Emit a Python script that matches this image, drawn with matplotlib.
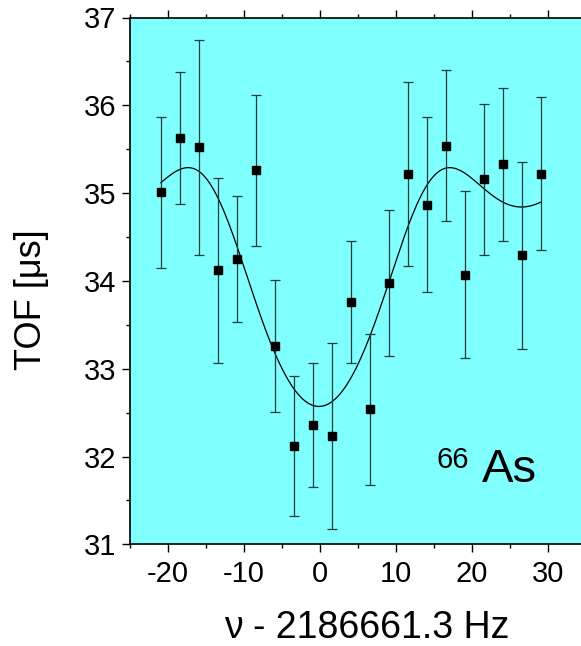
import numpy as np
import matplotlib
matplotlib.use("Agg")
import matplotlib.pyplot as plt
from matplotlib.ticker import MultipleLocator

# Measured time-of-flight resonance of 66As
freq = [-20.9, -18.4, -15.9, -13.4, -10.9, -8.4, -5.9, -3.4, -0.9, 1.6, 4.1,
        6.6, 9.1, 11.6, 14.1, 16.6, 19.1, 21.6, 24.1, 26.6, 29.1]
tof = [35.01, 35.63, 35.52, 34.12, 34.25, 35.26, 33.26, 32.12, 32.36, 32.23, 33.76,
       32.54, 33.98, 35.22, 34.87, 35.54, 34.07, 35.16, 35.33, 34.29, 35.22]
tof_err = [0.86, 0.75, 1.22, 1.05, 0.72, 0.86, 0.75, 0.80, 0.71, 1.06, 0.70,
           0.86, 0.83, 1.05, 1.00, 0.86, 0.95, 0.86, 0.87, 1.06, 0.87]

# Fit parameters of the theoretical line shape
nu_c = -0.1        # Hz, centre offset
t_rf = 0.0503      # s, excitation time
tof_base = 35.29   # us, off-resonance TOF
tof_depth = 2.72   # us, resonance depth
energy_k = 0.7     # non-linearity of TOF vs radial energy

x_ticks = [-20, -10, 0, 10, 20, 30]
y_ticks = [31, 32, 33, 34, 35, 36, 37]


def conversion(dnu):
    """Quadrupolar conversion profile for full conversion at resonance."""
    a = (np.pi / 2) ** 2
    b = (np.pi * dnu * t_rf) ** 2
    wb = np.sqrt(a + b)
    return a / (a + b) * np.sin(wb) ** 2


def tof_model(nu):
    f = conversion(nu - nu_c)
    g = (1 - 1 / np.sqrt(1 + energy_k * f)) / (1 - 1 / np.sqrt(1 + energy_k))
    return tof_base - tof_depth * g


plt.rcParams["font.family"] = ["Liberation Sans", "DejaVu Sans"]
plt.rcParams["axes.unicode_minus"] = False

W, H = 581, 646
fig = plt.figure(figsize=(W / 100, H / 100), dpi=100)
fig.patch.set_facecolor("white")

left, right, top, bottom = 129.7, 585.7, 17.5, 544.3
ax = fig.add_axes([left / W, 1 - bottom / H, (right - left) / W, (bottom - top) / H])
ax.set_facecolor("#80FFFF")

nu_fit = np.linspace(freq[0], freq[-1], 400)
ax.plot(nu_fit, tof_model(nu_fit), color="black", lw=0.9, zorder=2)

ax.errorbar(freq, tof, yerr=tof_err, fmt="s", color="black", ms=5.4,
            ecolor="#1c3c3c", elinewidth=0.9, capsize=3.6, capthick=0.9, zorder=3)

ax.set_xlim(-25, 35)
ax.set_ylim(31, 37)
ax.set_xticks(x_ticks)
ax.set_yticks(y_ticks)
ax.xaxis.set_minor_locator(MultipleLocator(5))
ax.yaxis.set_minor_locator(MultipleLocator(0.5))
ax.tick_params(axis="both", which="major", direction="out", length=5.5, width=1.0,
               labelsize=21, pad=4)
ax.tick_params(axis="both", which="minor", direction="out", length=2.6, width=1.0)
ax.tick_params(axis="x", which="both", top=True)
ax.tick_params(axis="x", which="major", pad=6)
for s in ax.spines.values():
    s.set_linewidth(1.2)

fig.text(31.7 / W, 1 - 300 / H, "TOF [μs]", rotation=90, fontsize=26,
         ha="center", va="center")
fig.text(367 / W, 1 - 628 / H, "ν - 2186661.3 Hz", fontsize=27,
         ha="center", va="center")

fig.text(481.7 / W, 1 - 481.7 / H, "As", fontsize=34, ha="left", va="baseline")
fig.text(436.7 / W, 1 - 467.7 / H, "66", fontsize=21, ha="left", va="baseline")

fig.savefig("out.png", dpi=100)
